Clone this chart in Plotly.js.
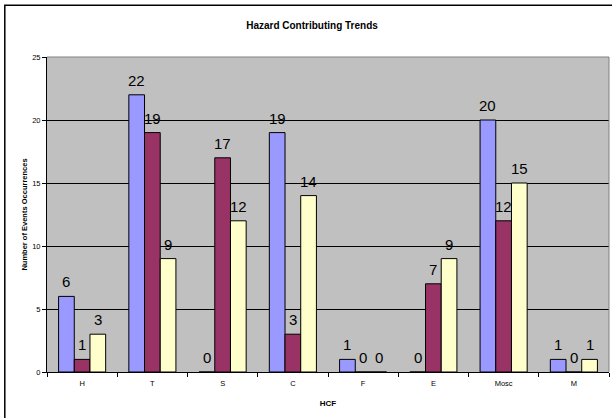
<!DOCTYPE html>
<html>
<head>
<meta charset="utf-8">
<script src="https://cdn.plot.ly/plotly-3.0.1.min.js"></script>
<style>
  html, body { margin: 0; padding: 0; background: #ffffff; }
  #chart { width: 612px; height: 418px; }
</style>
</head>
<body>
<div id="chart"></div>
<script>
// Hazard contributing factor categories
const categories = ["H", "T", "S", "C", "F", "E", "Mosc", "M"];

// Event counts per category, three series
const seriesA = [6, 22, 0, 19, 1, 0, 20, 1];
const seriesB = [1, 19, 17, 3, 0, 7, 12, 0];
const seriesC = [3, 9, 12, 14, 0, 9, 15, 1];

const yTickValues = [0, 5, 10, 15, 20, 25];

const seriesList = [seriesA, seriesB, seriesC];
const seriesColors = ["#9999FF", "#993366", "#FFFFCC"];
const seriesNames = ["Series 1", "Series 2", "Series 3"];

const FONT = "Arial, 'Liberation Sans', sans-serif";
const W = 612, H = 418;
const margin = { l: 47, r: 3, t: 57, b: 46 };
const plotW = W - margin.l - margin.r;
const plotH = H - margin.t - margin.b;
const bargap = 0.33;
const barWidthPx = (plotW / categories.length) * (1 - bargap) / seriesList.length;

const traces = seriesList.map((vals, i) => ({
  type: "bar",
  name: seriesNames[i],
  x: categories,
  y: vals,
  marker: { color: seriesColors[i], line: { color: "#000000", width: 1 } },
  hoverinfo: "x+y"
}));

// Value labels above each bar
const annotations = [];
seriesList.forEach((vals, i) => {
  vals.forEach((v, j) => {
    annotations.push({
      x: categories[j],
      y: v,
      xref: "x",
      yref: "y",
      text: String(v),
      showarrow: false,
      xanchor: "center",
      yanchor: "bottom",
      xshift: (i - 1) * barWidthPx,
      yshift: 4,
      font: { family: FONT, size: 15, color: "#000000" }
    });
  });
});

// Outer chart frame and the grey top/right edges of the plot area
const px2x = p => (p - margin.l) / plotW;
const px2y = p => (H - margin.b - p) / plotH;
const shapes = [
  { type: "line", xref: "paper", yref: "paper", x0: 0, x1: 1, y0: 1, y1: 1,
    line: { color: "#808080", width: 1 } },
  { type: "line", xref: "paper", yref: "paper", x0: 1, x1: 1, y0: 0, y1: 1,
    line: { color: "#808080", width: 1 } },
  { type: "rect", xref: "paper", yref: "paper",
    x0: px2x(4.8), x1: px2x(640), y0: px2y(440), y1: px2y(5.3),
    line: { color: "#000000", width: 1.5 } }
];

const layout = {
  width: W,
  height: H,
  margin: margin,
  paper_bgcolor: "#ffffff",
  plot_bgcolor: "#C0C0C0",
  showlegend: false,
  barmode: "group",
  bargap: bargap,
  bargroupgap: 0,
  font: { family: FONT, color: "#000000" },
  title: {
    text: "<b>Hazard Contributing Trends</b>",
    font: { family: FONT, size: 10, color: "#000000" },
    xref: "container", yref: "container",
    x: 312 / W, y: 1 - 25 / H,
    xanchor: "center", yanchor: "middle"
  },
  xaxis: {
    type: "category",
    tickson: "boundaries",
    ticks: "outside",
    ticklen: 4,
    tickcolor: "#000000",
    ticklabelstandoff: 4,
    showline: true,
    linecolor: "#000000",
    linewidth: 1,
    showgrid: false,
    tickfont: { family: FONT, size: 7.5, color: "#000000" },
    title: {
      text: "<b>HCF</b>",
      font: { family: FONT, size: 8, color: "#000000" },
      standoff: 13
    },
    automargin: false,
    fixedrange: true
  },
  yaxis: {
    range: [0, 25],
    tickvals: yTickValues,
    ticks: "outside",
    ticklen: 4,
    tickcolor: "#000000",
    showline: true,
    linecolor: "#000000",
    linewidth: 1,
    showgrid: true,
    gridcolor: "#000000",
    gridwidth: 1,
    zeroline: false,
    tickfont: { family: FONT, size: 7.5, color: "#000000" },
    title: {
      text: "<b>Number of Events Occurrences</b>",
      font: { family: FONT, size: 7.5, color: "#000000" },
      standoff: 3
    },
    automargin: false,
    fixedrange: true
  },
  annotations: annotations,
  shapes: shapes
};

Plotly.newPlot("chart", traces, layout, { displayModeBar: false, staticPlot: true });
</script>
</body>
</html>
